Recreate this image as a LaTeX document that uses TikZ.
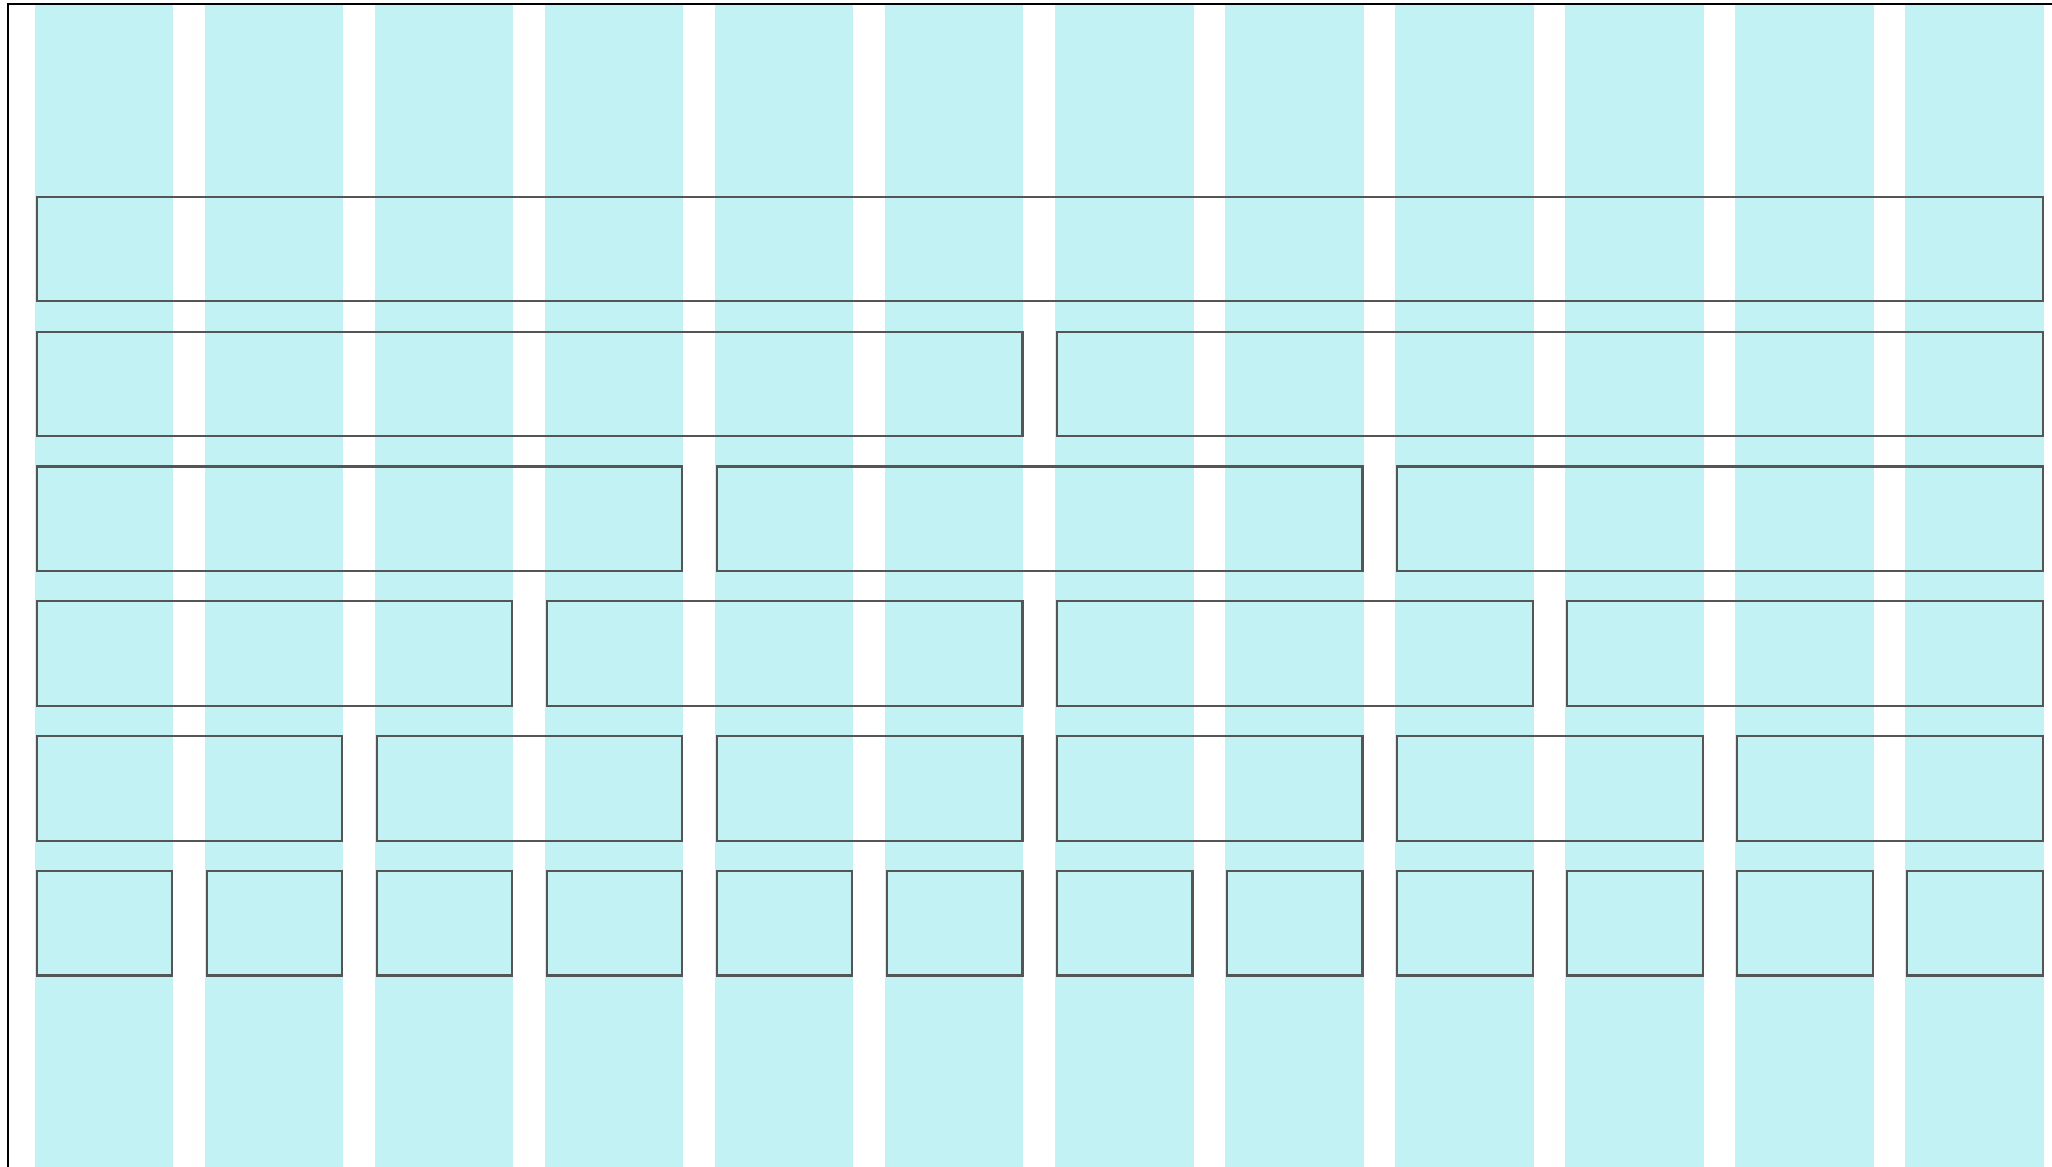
\documentclass[tikz,border=0pt]{standalone}
\definecolor{colcyan}{HTML}{C2F2F3}
\definecolor{boxline}{HTML}{555555}
\tikzset{
  colfill/.style={fill=colcyan},
  gridbox/.style={draw=boxline, line width=0.6pt},
  frameline/.style={draw=black, line width=0.45pt}
}
\begin{document}
\begin{tikzpicture}[x=0.01cm, y=-0.01cm]
\useasboundingbox (0,0) rectangle (2052,1166);
\fill[white] (0,0) rectangle (2052,1166);
% columns
\foreach \i in {0,...,11}
  \fill[colfill] ({35+170.03*\i},5) rectangle ++(138.3,1170);
% frame (top and left)
\draw[frameline] (8,1180) -- (8,4) -- (2070,4);
% boxes
\foreach \r/\a/\b in {0/0/11,
  1/0/5, 1/6/11,
  2/0/3, 2/4/7, 2/8/11,
  3/0/2, 3/3/5, 3/6/8, 3/9/11,
  4/0/1, 4/2/3, 4/4/5, 4/6/7, 4/8/9, 4/10/11,
  5/0/0, 5/1/1, 5/2/2, 5/3/3, 5/4/4, 5/5/5, 5/6/6, 5/7/7, 5/8/8, 5/9/9, 5/10/10, 5/11/11}
  \draw[gridbox] ({35+170.03*\a+1.7},{196.7+134.9*\r}) rectangle ({35+170.03*\b+137.3},{196.7+134.9*\r+104.3});
\end{tikzpicture}
\end{document}
